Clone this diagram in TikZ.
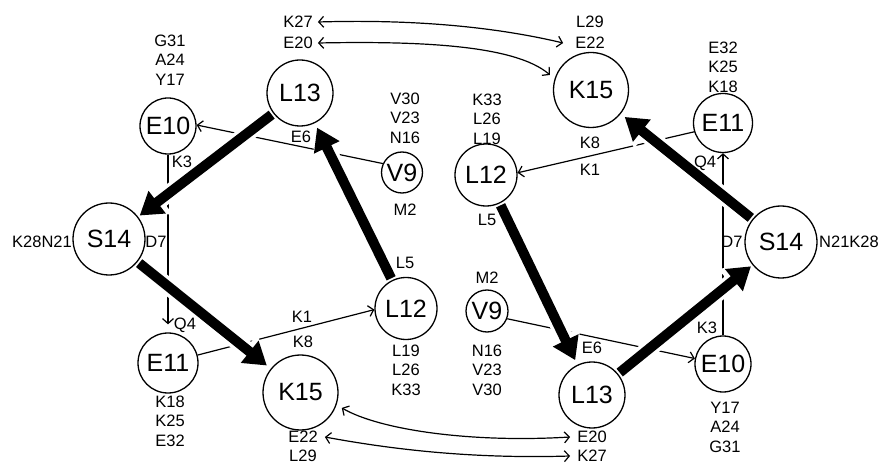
\documentclass[tikz,border=0pt]{standalone}
\usepackage{fontspec}
\setmainfont{Liberation Sans}
\usetikzlibrary{arrows.meta,backgrounds}
\begin{document}
\begin{tikzpicture}[x=1pt,y=-1pt,
  res/.style={circle,draw,line width=1.3pt,inner sep=0pt,font=\fontsize{25}{25}\selectfont},
  lbl/.style={inner sep=1pt,align=center,font=\fontsize{16.5}{19.5}\selectfont},
  conn/.style={line width=1.2pt},
  barb/.style={conn,-{Straight Barb[length=5pt,width=11pt]}},
  dbl/.style={conn,{Straight Barb[length=5pt,width=11pt]}-{Straight Barb[length=5pt,width=11pt]}},
  halo/.style={white,line width=17pt,-{Triangle[length=27pt,width=36pt]}},
  big/.style={black,line width=10pt,-{Triangle[length=22pt,width=27pt]}}
]
\useasboundingbox (0,0) rectangle (879,465);

% ---- residue circles, left half
\node[res,minimum size=56pt] (E10L) at (168,126) {E10};
\node[res,minimum size=66pt] (L13L) at (300,93) {L13};
\node[res,minimum size=41pt] (V9L) at (402,172.5) {V9};
\node[res,minimum size=72pt] (S14L) at (109,239) {S14};
\node[res,minimum size=60pt] (E11L) at (168,363) {E11};
\node[res,minimum size=75pt] (K15L) at (300.5,392.5) {K15};
\node[res,minimum size=62pt] (L12L) at (406,308.5) {L12};
% ---- residue circles, right half
\node[res,minimum size=75pt] (K15R) at (591,90) {K15};
\node[res,minimum size=59pt] (E11R) at (723,123) {E11};
\node[res,minimum size=62pt] (L12R) at (486,175) {L12};
\node[res,minimum size=72pt] (S14R) at (781,242) {S14};
\node[res,minimum size=42pt] (V9R) at (487,311) {V9};
\node[res,minimum size=66pt] (L13R) at (592,395) {L13};
\node[res,minimum size=56pt] (E10R) at (723,364) {E10};

% ---- labels, left half
\node[lbl] (sGAYL) at (170,60) {G31\\A24\\Y17};
\node[lbl] (K3L) at (182,162) {K3};
\node[lbl] (K27L) at (298,22) {K27};
\node[lbl] (E20L) at (298,43) {E20};
\node[lbl] (E6L) at (301,137) {E6};
\node[lbl] (sVVNL) at (405,118) {V30\\V23\\N16};
\node[lbl] (M2L) at (405,210) {M2};
\node[lbl] (KNL) at (42,242) {K28N21};
\node[lbl] (D7L) at (156,242) {D7};
\node[lbl] (Q4L) at (185,325) {Q4};
\node[lbl] (sKKEL) at (170,421) {K18\\K25\\E32};
\node[lbl] (K1L) at (302,317) {K1};
\node[lbl] (K8L) at (303,342) {K8};
\node[lbl] (E22L) at (303,437) {E22};
\node[lbl] (L29L) at (303,456) {L29};
\node[lbl] (L5L) at (405,263) {L5};
\node[lbl] (sLLKL) at (406,370) {L19\\L26\\K33};
% ---- labels, right half
\node[lbl] (L29R) at (590,22) {L29};
\node[lbl] (E22R) at (590,43) {E22};
\node[lbl] (sKLLR) at (487,119) {K33\\L26\\L19};
\node[lbl] (K8R) at (590,143) {K8};
\node[lbl] (K1R) at (590,170) {K1};
\node[lbl] (sEKKR) at (723,67) {E32\\K25\\K18};
\node[lbl] (Q4R) at (705,163) {Q4};
\node[lbl] (L5R) at (487,220) {L5};
\node[lbl] (D7R) at (732,242) {D7};
\node[lbl] (NKR) at (849,242) {N21K28};
\node[lbl] (M2R) at (487,278) {M2};
\node[lbl] (sNVVR) at (487,370) {N16\\V23\\V30};
\node[lbl] (E6R) at (592,348) {E6};
\node[lbl] (E20R) at (592,437) {E20};
\node[lbl] (K27R) at (592,456) {K27};
\node[lbl] (K3R) at (707,328) {K3};
\node[lbl] (sYAGR) at (725,427) {Y17\\A24\\G31};

\begin{scope}[on background layer]
  % thin connectors
  \draw[barb] (V9L.155) -- (E10L.2);
  \draw[barb,shorten >=8pt] (E10L) -- (E11L);
  \draw[barb] (E11L.15) -- (L12L.182);
  \draw[barb] (V9R.339) -- (E10R.169);
  \draw[barb] (E10R) -- (E11R);
  \draw[barb] (E11R.197) -- (L12R.4);
  % curved double-headed connectors
  \draw[dbl] ([xshift=4pt]K27L.east) .. controls (420,19) and (500,28) .. ([xshift=-11pt]E22R.west);
  \draw[dbl,shorten >=6pt] ([xshift=4pt]E20L.east) .. controls (420,41) and (515,45) .. (K15R.163);
  \draw[dbl,shorten <=6pt] (K15L.-19) .. controls (380,430) and (471,443) .. ([xshift=-6pt]E20R.west);
  \draw[dbl] ([xshift=6pt]E22L.east) .. controls (390,449) and (470,459) .. ([xshift=-6pt]K27R.west);
  % halos of thick arrows
  \draw[halo,shorten <=2pt,shorten >=2pt] (L13L) -- (S14L);
  \draw[halo,shorten <=2pt,shorten >=5pt] (L12L) -- (L13L);
  \draw[halo,shorten <=2pt,shorten >=5pt] (S14L) -- (K15L);
  \draw[halo,shorten <=2pt,shorten >=2pt] (L13R) -- (S14R);
  \draw[halo,shorten <=2pt,shorten >=5pt] (L12R) -- (L13R);
  \draw[halo,shorten <=2pt,shorten >=5pt] (S14R) -- (K15R);
  % thick arrows
  \draw[big,shorten <=2pt,shorten >=2pt] (L13L) -- (S14L);
  \draw[big,shorten <=2pt,shorten >=5pt] (L12L) -- (L13L);
  \draw[big,shorten <=2pt,shorten >=5pt] (S14L) -- (K15L);
  \draw[big,shorten <=2pt,shorten >=2pt] (L13R) -- (S14R);
  \draw[big,shorten <=2pt,shorten >=5pt] (L12R) -- (L13R);
  \draw[big,shorten <=2pt,shorten >=5pt] (S14R) -- (K15R);
\end{scope}
\end{tikzpicture}
\end{document}
